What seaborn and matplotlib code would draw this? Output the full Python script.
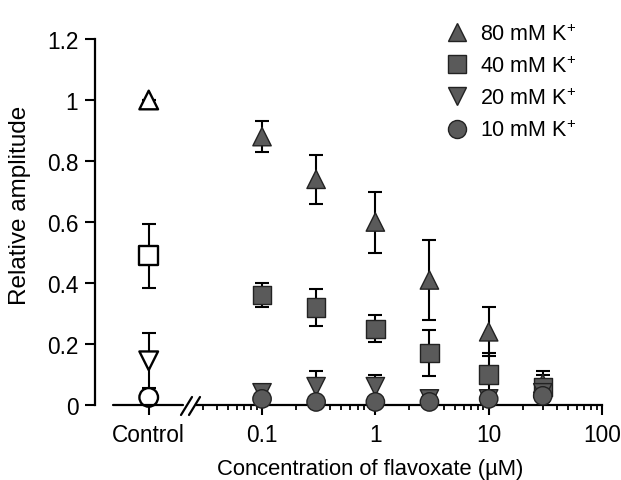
import matplotlib
matplotlib.use("Agg")
import matplotlib.pyplot as plt
import seaborn as sns
import pandas as pd
from matplotlib.lines import Line2D
from matplotlib.ticker import FixedLocator, FixedFormatter, NullFormatter

# ---------------- data ----------------
series = ["80 mM K$^{+}$", "40 mM K$^{+}$", "20 mM K$^{+}$", "10 mM K$^{+}$"]
marker_list = ["^", "s", "v", "o"]

conc = [0.1, 0.3, 1, 3, 10, 30]
k80 = [0.88, 0.74, 0.60, 0.41, 0.24, 0.07]
k80_err = [0.05, 0.08, 0.10, 0.13, 0.08, 0.04]
k40 = [0.36, 0.32, 0.25, 0.17, 0.10, 0.06]
k40_err = [0.04, 0.06, 0.045, 0.075, 0.07, 0.04]
k20 = [0.04, 0.06, 0.06, 0.02, 0.02, 0.04]
k20_err = [0.02, 0.05, 0.04, 0.01, 0.02, 0.03]
k10 = [0.02, 0.01, 0.01, 0.01, 0.02, 0.03]
k10_err = [0.01, 0.01, 0.01, 0.01, 0.01, 0.02]

control = [1.0, 0.49, 0.145, 0.025]
control_err = [0.0, 0.105, 0.09, 0.0]

x_tick_labels = ["Control", "0.1", "1", "10", "100"]
y_ticks = [0, 0.2, 0.4, 0.6, 0.8, 1.0, 1.2]
y_tick_labels = ["0", "0.2", "0.4", "0.6", "0.8", "1", "1.2"]

CONTROL_POS = 0.01  # where the "Control" group sits on the log axis

# ---------------- tables ----------------
vals = [k80, k40, k20, k10]
errs = [k80_err, k40_err, k20_err, k10_err]
rows = []
for s, v, e in zip(series, vals, errs):
    for c, vv, ee in zip(conc, v, e):
        rows.append({"series": s, "conc": c, "value": vv, "err": ee})
df = pd.DataFrame(rows)
dfc = pd.DataFrame({"series": series, "conc": CONTROL_POS,
                    "value": control, "err": control_err})

# ---------------- style ----------------
sns.set_style("ticks")
plt.rcParams["font.family"] = ["Liberation Sans", "DejaVu Sans"]
plt.rcParams["mathtext.fontset"] = "custom"
plt.rcParams["mathtext.rm"] = "Liberation Sans"
plt.rcParams["mathtext.it"] = "Liberation Sans:italic"
plt.rcParams["mathtext.bf"] = "Liberation Sans:bold"
plt.rcParams["text.color"] = "black"
plt.rcParams["axes.labelcolor"] = "black"
plt.rcParams["xtick.color"] = "black"
plt.rcParams["ytick.color"] = "black"
plt.rcParams["axes.edgecolor"] = "black"

FS_TICK = 16.3
FS_X = 15.8
FS_Y = 17.5
FS_LEG = 15.5
GRAY = "#5a5a5a"
EDGE = "#222222"

fig = plt.figure(figsize=(6.21, 4.81), dpi=100)
W, H = 621, 481
ax = fig.add_axes([95 / W, 1 - 406 / H, (602 - 95) / W, (406 - 40) / H])
ax.set_xscale("log")
ax.set_xlim(10 ** -2.474, 100)
ax.set_ylim(0, 1.2)

mk = dict(zip(series, marker_list))

# error bars (behind markers)
ax.errorbar(df["conc"], df["value"], yerr=df["err"], fmt="none", ecolor="black",
            elinewidth=1.5, capsize=5, capthick=1.5, zorder=2, clip_on=False)
ax.errorbar(dfc["conc"], dfc["value"], yerr=dfc["err"], fmt="none", ecolor="black",
            elinewidth=1.5, capsize=5, capthick=1.5, zorder=2, clip_on=False)

sns.scatterplot(data=df, x="conc", y="value", style="series", markers=mk,
                color=GRAY, edgecolor=EDGE, linewidth=1.0, s=175, legend=False,
                ax=ax, zorder=3, clip_on=False)
sns.scatterplot(data=dfc, x="conc", y="value", style="series", markers=mk,
                color="white", edgecolor="black", linewidth=1.7, s=180, legend=False,
                ax=ax, zorder=3, clip_on=False)

# ---------------- axes ----------------
for sp in ["top", "right"]:
    ax.spines[sp].set_visible(False)
for sp in ["left", "bottom"]:
    ax.spines[sp].set_linewidth(1.6)
    ax.spines[sp].set_color("black")
ax.spines["bottom"].set_bounds(0.0267, 100)
# left segment of broken x axis
ax.add_line(Line2D([0.00484, 0.0201], [0, 0], transform=ax.get_xaxis_transform(),
                   color="black", lw=1.6, clip_on=False, zorder=4))
# break marks
for dx in (0, 8):
    fig.add_artist(Line2D([(181 + dx) / W, (192 + dx) / W],
                          [1 - 416 / H, 1 - 398 / H],
                          color="black", lw=1.6))

ax.xaxis.set_major_locator(FixedLocator([CONTROL_POS, 0.1, 1, 10, 100]))
ax.xaxis.set_major_formatter(FixedFormatter(x_tick_labels))
minors = [m * 10 ** e for e in (-2, -1, 0, 1) for m in range(2, 10) if m * 10 ** e > 0.025]
ax.xaxis.set_minor_locator(FixedLocator(minors))
ax.xaxis.set_minor_formatter(NullFormatter())
ax.set_yticks(y_ticks)
ax.set_yticklabels(y_tick_labels)

ax.tick_params(axis="both", which="major", direction="out", length=7, width=1.5,
               labelsize=FS_TICK, colors="black")
ax.tick_params(axis="x", which="major", pad=6)
ax.tick_params(axis="y", which="major", pad=5)
ax.tick_params(axis="x", which="minor", direction="out", length=3.5, width=1.3,
               colors="black")

ax.set_xlabel("Concentration of flavoxate (\u00b5M)", fontsize=FS_X, color="black")
ax.set_ylabel("Relative amplitude", fontsize=FS_Y, color="black")
ax.xaxis.set_label_coords((370 - 95) / 507, -(470 - 406) / 366)
ax.yaxis.set_label_coords(-(95 - 20) / 507, (406 - 205) / 366)
ax.xaxis.label.set_va("center")
ax.yaxis.label.set_va("center")

# ---------------- legend ----------------
handles = [Line2D([], [], linestyle="none", marker=m, markersize=13,
                  markerfacecolor=GRAY, markeredgecolor=EDGE, markeredgewidth=1.0)
           for m in marker_list]
leg = ax.legend(handles, series, loc="upper left",
                bbox_to_anchor=(446 / W, 1 - 24 / H), bbox_transform=fig.transFigure,
                frameon=False, fontsize=FS_LEG, handlelength=1.0, handletextpad=0.6,
                labelspacing=0.5, borderpad=0, borderaxespad=0, labelcolor="black")

fig.savefig("out.png", dpi=100)
